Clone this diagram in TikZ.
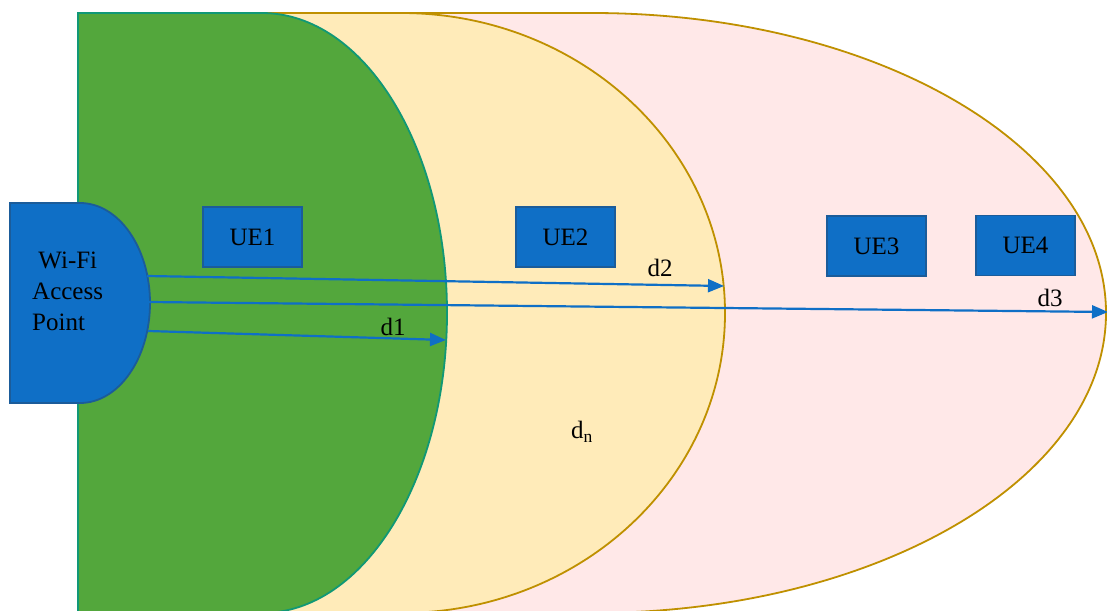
\documentclass[tikz,border=0pt]{standalone}
\usepackage{fontspec}
\setmainfont{Liberation Serif}
\usetikzlibrary{arrows.meta}
\definecolor{ueblue}{HTML}{0F6FC6}
\definecolor{ueedge}{HTML}{1B5C9A}
\definecolor{zonegreen}{HTML}{53A73C}
\definecolor{zonegreenedge}{HTML}{109876}
\definecolor{zoneyellow}{HTML}{FFEBB9}
\definecolor{zonepink}{HTML}{FFE8E8}
\definecolor{zoneedge}{HTML}{BF9000}
\tikzset{
  zone/.style={line width=1.8pt},
  uebox/.style={draw=ueedge, fill=ueblue, line width=1.8pt, minimum width=99pt,
    minimum height=60pt, inner sep=0pt, font=\fontsize{25}{30}\selectfont},
  link/.style={draw=ueblue, line width=2.2pt, -{Triangle[length=16pt,width=13pt]}},
  lbl/.style={font=\fontsize{25}{30}\selectfont, inner sep=0pt}
}
\begin{document}
\begin{tikzpicture}[x=1pt,y=-1pt]
\useasboundingbox (0,0) rectangle (1107,610);
\clip (0,0) rectangle (1107,610);
% coverage zones (delay shapes), largest first
\path[zone, draw=zoneedge, fill=zonepink]
  (78,13) -- (592,13) arc[start angle=-90, end angle=90, x radius=514, y radius=300]
  -- (78,613) -- cycle;
\path[zone, draw=zoneedge, fill=zoneyellow]
  (78,13) -- (401,13) arc[start angle=-90, end angle=90, x radius=324, y radius=300]
  -- (78,613) -- cycle;
\path[zone, draw=zonegreenedge, fill=zonegreen]
  (78,13) -- (262,13) arc[start angle=-90, end angle=90, x radius=185, y radius=300]
  -- (78,613) -- cycle;
% access point
\path[draw=ueedge, fill=ueblue, line width=1.8pt]
  (10,203) -- (80,203) arc[start angle=-90, end angle=90, x radius=70, y radius=100]
  -- (10,403) -- cycle;
\node[lbl, align=left, anchor=north west, font=\fontsize{25}{31}\selectfont] (ap) at (32,252)
  {\ Wi-Fi\\Access\\Point};
% user equipment
\node[uebox] (ue1) at (252.5,237) {UE1};
\node[uebox] (ue2) at (565.5,237) {UE2};
\node[uebox] (ue3) at (876.5,246) {UE3};
\node[uebox] (ue4) at (1025.5,245.5) {UE4};
% distance links
\coordinate (s2) at (147,276);
\coordinate (e2) at (724,286);
\coordinate (s3) at (149,302);
\coordinate (e3) at (1108,312);
\coordinate (s1) at (148,331);
\coordinate (e1) at (446,340);
\draw[link] (s2) -- (e2);
\draw[link] (s3) -- (e3);
\draw[link] (s1) -- (e1);
\node[lbl] (d1) at (393,327) {d1};
\node[lbl] (d2) at (660,268) {d2};
\node[lbl] (d3) at (1050,298) {d3};
\node[lbl] (dn) at (582,432) {d\textsubscript{n}};
\end{tikzpicture}
\end{document}
